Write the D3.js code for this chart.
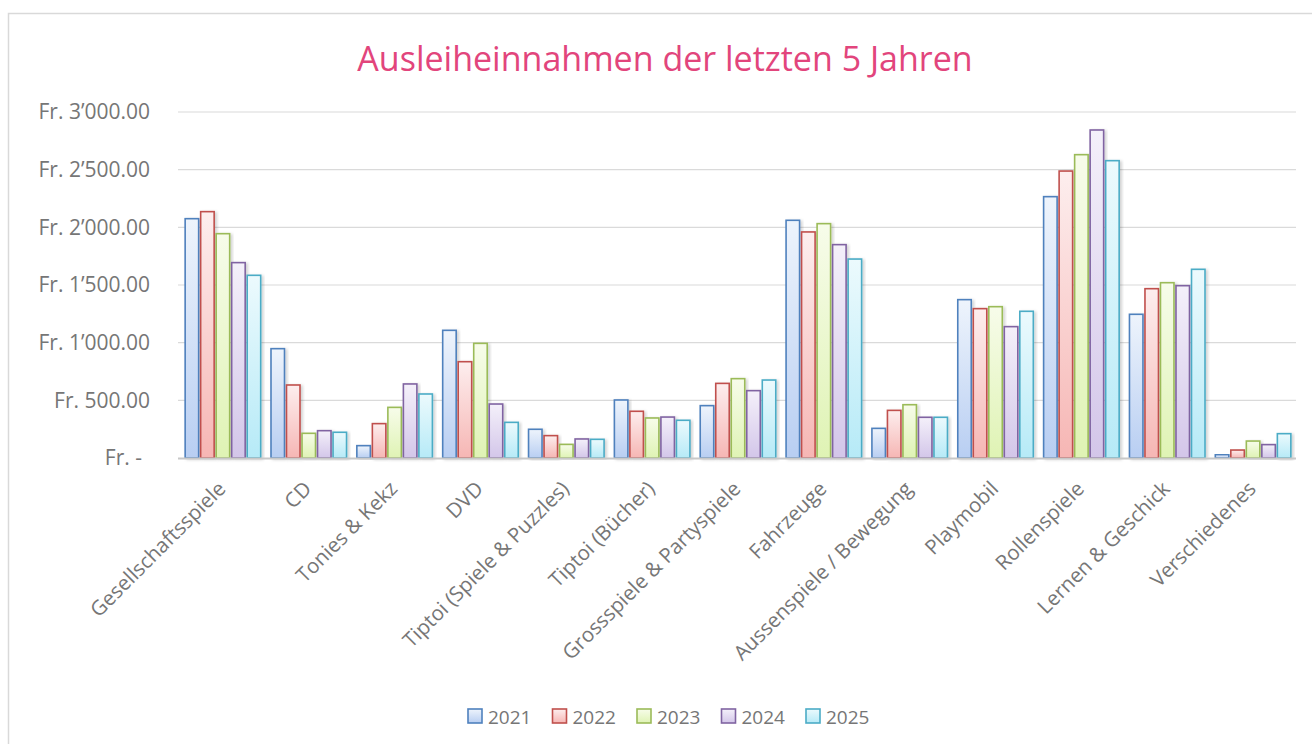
<!DOCTYPE html>
<html>
  <head>
    <meta charset="utf-8">
    <title>Ausleiheinnahmen</title>
    <style>
      body { margin: 0; background: #fff; }
      text { font-family: "Open Sans", sans-serif; }
    </style>
  </head>
  <body>
    <svg width="1312" height="744"></svg>

    <script src="https://cdn.jsdelivr.net/npm/d3@7"></script>
    <script>

      var categories = ["Gesellschaftsspiele", "CD", "Tonies & Kekz", "DVD", "Tiptoi (Spiele & Puzzles)",
        "Tiptoi (Bücher)", "Grossspiele & Partyspiele", "Fahrzeuge", "Aussenspiele / Bewegung",
        "Playmobil", "Rollenspiele", "Lernen & Geschick", "Verschiedenes"];

      var years = ["2021", "2022", "2023", "2024", "2025"];

      var v2021 = [2075, 948, 107, 1107, 249, 503, 454, 2061, 257, 1373, 2266, 1246, 29];
      var v2022 = [2136, 633, 298, 835, 194, 405, 647, 1960, 413, 1295, 2488, 1468, 69];
      var v2023 = [1945, 214, 439, 994, 118, 347, 688, 2032, 462, 1312, 2630, 1520, 147];
      var v2024 = [1694, 237, 642, 468, 165, 355, 584, 1850, 353, 1139, 2844, 1494, 116];
      var v2025 = [1584, 223, 555, 309, 162, 327, 676, 1725, 353, 1272, 2578, 1636, 211];

      var yTicks = [0, 500, 1000, 1500, 2000, 2500, 3000];

      var seriesValues = [v2021, v2022, v2023, v2024, v2025];

      var strokes = ["#4f81bd", "#c0504d", "#9bbb59", "#8064a2", "#4bacc6"];
      var lightTop = ["#eef4fc", "#fdeeee", "#f7fcea", "#f4f0fa", "#ecfafd"];
      var lightBottom = ["#b8cef2", "#f6b6b4", "#dff3b4", "#d3c6e9", "#b6eaf7"];

      var svg = d3.select("svg"),
        width = +svg.attr("width"),
        height = +svg.attr("height");

      var defs = svg.append("defs");

      years.forEach(function (yr, i) {
        var g = defs.append("linearGradient")
          .attr("id", "grad" + i)
          .attr("x1", 0).attr("y1", 0).attr("x2", 0).attr("y2", 1);
        g.append("stop").attr("offset", "0%").attr("stop-color", lightTop[i]);
        g.append("stop").attr("offset", "100%").attr("stop-color", lightBottom[i]);
      });

      var shadow = defs.append("filter").attr("id", "shadow")
        .attr("x", "-30%").attr("y", "-10%").attr("width", "160%").attr("height", "120%");
      shadow.append("feDropShadow")
        .attr("dx", 2).attr("dy", 1).attr("stdDeviation", 1.5)
        .attr("flood-color", "#000").attr("flood-opacity", 0.18);

      var blur = defs.append("filter").attr("id", "soft")
        .attr("x", "-5%").attr("y", "-200%").attr("width", "110%").attr("height", "500%");
      blur.append("feGaussianBlur").attr("stdDeviation", 1);

      // chart frame
      svg.append("rect")
        .attr("x", 8.5).attr("y", 13.5)
        .attr("width", width + 20).attr("height", height + 20)
        .attr("fill", "none")
        .attr("stroke", "#d9d9d9")
        .attr("stroke-width", 1.5);

      svg.append("text")
        .attr("x", 665)
        .attr("y", 71)
        .attr("text-anchor", "middle")
        .attr("font-size", 34)
        .attr("fill", "#e2457c")
        .text("Ausleiheinnahmen der letzten 5 Jahren");

      var x0 = d3.scaleBand()
        .domain(categories)
        .range([180, 1296])
        .paddingInner(0.12)
        .paddingOuter(0.06);

      var x1 = d3.scaleBand()
        .domain(years)
        .range([0, x0.bandwidth()])
        .paddingInner(0.13);

      var y = d3.scaleLinear()
        .domain([0, 3000])
        .range([458, 112]);

      // gridlines (soft shadow + line)
      svg.append("g")
        .selectAll("line")
        .data(yTicks.slice(1))
        .enter().append("line")
        .attr("x1", 178)
        .attr("x2", 1296)
        .attr("y1", function (d) { return y(d) + 1.5; })
        .attr("y2", function (d) { return y(d) + 1.5; })
        .attr("stroke", "#c4c4c4")
        .attr("stroke-width", 3)
        .attr("filter", "url(#soft)");

      svg.append("g")
        .selectAll("line")
        .data(yTicks.slice(1))
        .enter().append("line")
        .attr("x1", 178)
        .attr("x2", 1296)
        .attr("y1", function (d) { return y(d); })
        .attr("y2", function (d) { return y(d); })
        .attr("stroke", "#dadada")
        .attr("stroke-width", 1.2);

      var fmt = d3.format(",.2f");
      var yAxis = d3.axisLeft(y)
        .tickValues(yTicks)
        .tickSize(0)
        .tickPadding(0)
        .tickFormat(function (d) {
          if (d === 0) return "Fr. -";
          return "Fr. " + fmt(d).replace(/,/g, "\u2019");
        });

      var yg = svg.append("g")
        .attr("transform", "translate(150,0)")
        .call(yAxis);
      yg.select(".domain").remove();
      yg.selectAll("text")
        .attr("font-size", 21)
        .attr("fill", "#767676")
        .attr("dx", function (d) { return d === 0 ? -8 : 0; });

      // bars
      var groups = svg.append("g")
        .selectAll("g")
        .data(categories)
        .enter().append("g")
        .attr("transform", function (d) { return "translate(" + x0(d) + ",0)"; });

      groups.selectAll("rect")
        .data(function (c, ci) {
          return years.map(function (yr, si) {
            return { year: yr, si: si, value: seriesValues[si][ci] };
          });
        })
        .enter().append("rect")
        .attr("x", function (d) { return x1(d.year); })
        .attr("y", function (d) { return y(d.value); })
        .attr("width", x1.bandwidth())
        .attr("height", function (d) { return y(0) - y(d.value); })
        .attr("fill", function (d) { return "url(#grad" + d.si + ")"; })
        .attr("stroke", function (d) { return strokes[d.si]; })
        .attr("stroke-width", 1.6)
        .attr("filter", "url(#shadow)");

      // x axis line
      var xAxis = d3.axisBottom(x0).tickSize(0).tickPadding(0);
      var xg = svg.append("g")
        .attr("transform", "translate(0," + y(0) + ")")
        .call(xAxis);
      xg.select(".domain")
        .attr("d", "M178,0.5H1296")
        .attr("stroke", "#c8c8c8")
        .attr("stroke-width", 2);
      xg.selectAll(".tick text")
        .attr("font-size", 20.5)
        .attr("fill", "#767676")
        .attr("text-anchor", "end")
        .attr("dy", 0)
        .attr("y", 0)
        .attr("transform", "translate(4,32) rotate(-45)");

      // legend
      var legend = svg.append("g")
        .selectAll("g")
        .data(years)
        .enter().append("g")
        .attr("transform", function (d, i) { return "translate(" + (468 + i * 84.5) + ",709)"; });

      legend.append("rect")
        .attr("width", 14)
        .attr("height", 14)
        .attr("fill", function (d, i) { return "url(#grad" + i + ")"; })
        .attr("stroke", function (d, i) { return strokes[i]; })
        .attr("stroke-width", 1.6);

      legend.append("text")
        .attr("x", 20)
        .attr("y", 14.5)
        .attr("font-size", 19)
        .attr("fill", "#767676")
        .text(function (d) { return d; });

    </script>
  </body>
</html>
